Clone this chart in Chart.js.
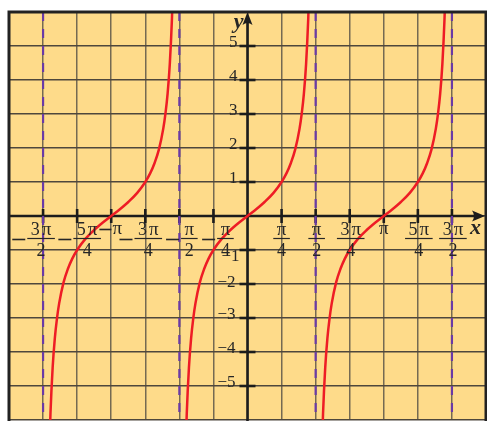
<!DOCTYPE html>
<html><head><meta charset="utf-8">
<script src="https://cdn.jsdelivr.net/npm/chart.js@4/dist/chart.umd.min.js"></script>
<style>html,body{margin:0;padding:0;background:#fff;}canvas{display:block;}</style>
</head><body>
<canvas id="c" width="487" height="421"></canvas>
<script>
const PI = Math.PI;
// axis ranges (x in multiples of pi)
const xRangePi = [-1.75, 1.75];
const yRange = [-6, 6];
// tan curve: branch centres (multiples of pi), offsets (rad) and read values
const branchCentersPi = [-1, 0, 1];
const curveOffsets = [-1.4289,-1.4,-1.35,-1.3,-1.25,-1.2,-1.1,-1.0,-0.9,-0.7854,-0.6,-0.4,-0.2,0,0.2,0.4,0.6,0.7854,0.9,1.0,1.1,1.2,1.25,1.3,1.35,1.4,1.4289];
const curveValues  = [-7,-5.80,-4.46,-3.60,-3.01,-2.57,-1.96,-1.56,-1.26,-1,-0.68,-0.42,-0.20,0,0.20,0.42,0.68,1,1.26,1.56,1.96,2.57,3.01,3.60,4.46,5.80,7];
// vertical asymptotes (multiples of pi)
const asymptotesPi = [-1.5, -0.5, 0.5, 1.5];
// x tick labels
const xTickPi  = [-1.5,-1.25,-1,-0.75,-0.5,-0.25,0.25,0.5,0.75,1,1.25,1.5];
const xTickNum = ['3','5','','3','','','','','3','','5','3'];
const xTickDen = ['2','4','','4','2','4','4','2','4','','4','2'];
// y tick labels
const yTickValues = [-5,-4,-3,-2,-1,1,2,3,4,5];
const yTickLabels = ['\u22125','\u22124','\u22123','\u22122','\u22121','1','2','3','4','5'];

// layout tweaks (label nudges, pixels)
const xLabelShift = [-2,10,6,3,10,12,0,1,1,0,1,1];
const yLabelDy = {'-1':11,'-2':3};
const yLabelDx = {'-1':4};

const curveSets = branchCentersPi.map(c => ({
  type:'line',
  data: curveOffsets.map((o,i)=>({x:c*PI+o, y:curveValues[i]})),
  borderColor:'#ee1c25', borderWidth:2.5, pointRadius:0,
  cubicInterpolationMode:'monotone', clip:0, order:1
}));
const asymSets = asymptotesPi.map(a => ({
  type:'line',
  data:[{x:a*PI,y:yRange[1]},{x:a*PI,y:yRange[0]}],
  borderColor:'#6a3aa6', borderWidth:2.2, borderDash:[9,8], pointRadius:0, clip:0, order:2
}));

const BG = '#fedb8a';
const INK = '#1c1c1c';

const deco = {
  id:'deco',
  beforeDraw(chart){
    const {ctx, chartArea:a} = chart;
    ctx.save();
    ctx.fillStyle='#fff'; ctx.fillRect(0,0,chart.width,chart.height);
    ctx.fillStyle=BG; ctx.fillRect(a.left,a.top,a.right-a.left,a.bottom-a.top);
    ctx.restore();
  },
  beforeDatasetsDraw(chart){
    const {ctx, chartArea:a, scales:{x,y}} = chart;
    const x0 = x.getPixelForValue(0), y0 = y.getPixelForValue(0);
    ctx.save();
    ctx.strokeStyle=INK; ctx.fillStyle=INK; ctx.lineWidth=2.6;
    ctx.beginPath(); ctx.moveTo(a.left,y0); ctx.lineTo(a.right-6,y0); ctx.stroke();
    ctx.beginPath(); ctx.moveTo(x0,a.bottom+2); ctx.lineTo(x0,a.top+6); ctx.stroke();
    ctx.lineWidth=2.6;
    xTickPi.forEach(v=>{const p=x.getPixelForValue(v*PI);ctx.beginPath();ctx.moveTo(p,y0-7);ctx.lineTo(p,y0+7);ctx.stroke();});
    yTickValues.forEach(v=>{const p=y.getPixelForValue(v);ctx.beginPath();ctx.moveTo(x0-8,p);ctx.lineTo(x0+8,p);ctx.stroke();});
    // arrows
    let tx=a.right-1;
    ctx.beginPath(); ctx.moveTo(tx,y0); ctx.lineTo(tx-13,y0-5.5); ctx.quadraticCurveTo(tx-9,y0,tx-13,y0+5.5); ctx.closePath(); ctx.fill();
    let ty=a.top;
    ctx.beginPath(); ctx.moveTo(x0,ty); ctx.lineTo(x0-5,ty+13); ctx.quadraticCurveTo(x0,ty+9,x0+5,ty+13); ctx.closePath(); ctx.fill();
    ctx.restore();
  },
  afterDatasetsDraw(chart){
    const {ctx, chartArea:a, scales:{x,y}} = chart;
    const x0 = x.getPixelForValue(0), y0 = y.getPixelForValue(0);
    ctx.save();
    ctx.fillStyle='#262626'; ctx.strokeStyle='#262626';
    const F='"Liberation Serif", "DejaVu Serif", serif';
    // x labels
    xTickPi.forEach((v,i)=>{
      const px = x.getPixelForValue(v*PI)+xLabelShift[i];
      const neg = v<0;
      ctx.font='18px '+F;
      const dig = xTickNum[i], den = xTickDen[i];
      const dW = dig? ctx.measureText(dig).width : 0;
      ctx.font='19px '+F;
      const pW = ctx.measureText('\u03c0').width;
      const gap = dig?2:0;
      const numW = dW+gap+pW;
      if(den){
        ctx.font='18px '+F;
        const denW = ctx.measureText(den).width;
        const barW = Math.max(numW,denW)+7;
        let sx = px-numW/2;
        ctx.textAlign='left'; ctx.textBaseline='alphabetic';
        if(dig){ctx.fillText(dig,sx,235);}
        ctx.font='19px '+F; ctx.fillText('\u03c0',sx+dW+gap,235);
        ctx.font='18px '+F; ctx.textAlign='center'; ctx.fillText(den,px,256);
        ctx.lineWidth=1.2; ctx.beginPath(); ctx.moveTo(px-barW/2,238.5); ctx.lineTo(px+barW/2,238.5); ctx.stroke();
        if(neg){ctx.lineWidth=1.6; const r=px-barW/2-2; ctx.beginPath(); ctx.moveTo(r-13,239.5); ctx.lineTo(r,239.5); ctx.stroke();}
      } else {
        ctx.font='19px '+F; ctx.textAlign='center'; ctx.fillText('\u03c0',px,234);
        if(neg){ctx.lineWidth=1.6; const r=px-pW/2-1; ctx.beginPath(); ctx.moveTo(r-12,229.5); ctx.lineTo(r,229.5); ctx.stroke();}
      }
    });
    // y labels
    ctx.font='17px '+F; ctx.textAlign='right'; ctx.textBaseline='alphabetic';
    yTickValues.forEach((v,i)=>{
      const py = y.getPixelForValue(v)+(yLabelDy[v]||1);
      const pxr = x0-10-(v<0?2:0)+(yLabelDx[v]||0);
      ctx.fillText(yTickLabels[i],pxr,py);
    });
    // axis names
    ctx.font='italic bold 22px '+F;
    ctx.textAlign='right'; ctx.fillText('y',x0-4,28);
    ctx.textAlign='left'; ctx.fillText('x',a.right-16,234);
    // frame
    ctx.strokeStyle='#222'; ctx.lineWidth=3;
    ctx.beginPath(); ctx.moveTo(a.left,a.bottom+2); ctx.lineTo(a.left,a.top); ctx.lineTo(a.right,a.top); ctx.lineTo(a.right,a.bottom+2); ctx.stroke();
    ctx.restore();
  }
};

new Chart(document.getElementById('c'), {
  type:'line',
  data:{datasets:[...curveSets, ...asymSets]},
  options:{
    responsive:false, animation:false, devicePixelRatio:1,
    layout:{padding:{left:9,top:12,right:1,bottom:1}},
    plugins:{legend:{display:false}, tooltip:{enabled:false}},
    scales:{
      x:{type:'linear', min:xRangePi[0]*PI, max:xRangePi[1]*PI,
        afterBuildTicks:(s)=>{const t=[];for(let k=-7;k<=7;k++)t.push({value:k*PI/4});s.ticks=t;},
        ticks:{display:false}, border:{display:false},
        grid:{color:'#756a52', lineWidth:1.5, drawTicks:false}},
      y:{type:'linear', min:yRange[0], max:yRange[1],
        ticks:{display:false, stepSize:1}, border:{display:false},
        grid:{color:'#4e473c', lineWidth:1.5, drawTicks:false}}
    }
  },
  plugins:[deco]
});
</script>
</body></html>
